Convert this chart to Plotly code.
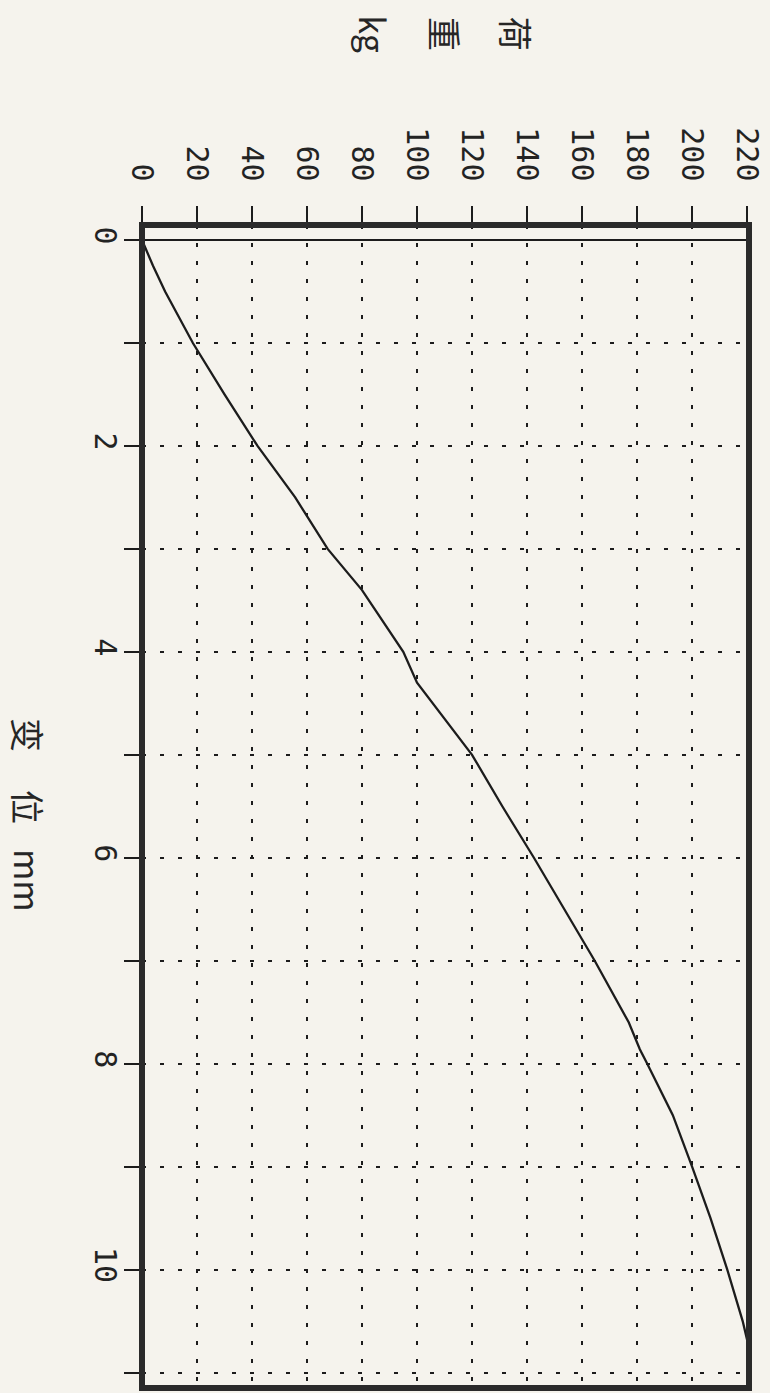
import plotly.graph_objects as go

# Load-displacement record: displacement (mm) vs load (kg)
disp_mm = [0, 0.25, 0.5, 0.75, 1.0, 1.5, 2.0, 2.5, 3.0, 3.4, 4.0, 4.3, 5.0, 5.5,
           6.0, 7.0, 7.6, 7.86, 8.0, 8.5, 9.0, 9.5, 10.0, 10.5, 10.68]
load_kg = [0, 4, 8.4, 13.5, 18.5, 30, 42, 55.7, 67.5, 80, 95, 100, 120, 131,
           142.5, 164.6, 177.0, 181.0, 183.7, 193, 200, 206.7, 212.8, 218.4, 220]

load_ticks = list(range(0, 221, 20))
load_tick_labels = [str(v) for v in load_ticks]
disp_ticks = list(range(0, 12))
disp_tick_labels = [str(v) if v % 2 == 0 else "" for v in disp_ticks]

load_title = ["荷", "重", "kg"]
disp_title = ["变", "位", "mm"]

W, H = 770, 1393
L, R, T, B = 142, 755, 225, 1388
INK = "#1c1c1c"
PAPER = "#f5f3ed"


def px(x):
    return (x - L) / (R - L)


def py(y):
    return (B - y) / (B - T)


fig = go.Figure(
    go.Scatter(
        x=load_kg, y=disp_mm, mode="lines",
        line=dict(color=INK, width=2.3),
        hoverinfo="skip", showlegend=False,
    )
)

tick_font = dict(family="DejaVu Sans Mono", size=30, color="#232323")
grid = dict(showgrid=True, gridcolor=INK, gridwidth=2, griddash="4px,14px")

fig.update_xaxes(
    side="top", range=[0, 220.7],
    tickvals=load_ticks, ticktext=load_tick_labels, tickangle=90,
    ticks="outside", ticklen=18, tickwidth=2, tickcolor=INK,
    ticklabelstandoff=14, ticklabeloverflow="allow",
    tickfont=tick_font, zeroline=False, showline=False, **grid,
)
fig.update_yaxes(
    range=[11.15, -0.146],
    tickvals=disp_ticks, ticktext=disp_tick_labels, tickangle=90,
    ticks="outside", ticklen=17, tickwidth=2, tickcolor=INK,
    ticklabelstandoff=-7, ticklabeloverflow="allow",
    tickfont=tick_font, zeroline=True, zerolinecolor=INK, zerolinewidth=2,
    showline=False, **grid,
)

# heavy frame around the plotting area
fig.add_shape(type="rect", xref="paper", yref="paper", x0=0, x1=1, y0=0, y1=1,
              line=dict(color="#2a2a2a", width=6), layer="above")

title_font = dict(family="Noto Sans CJK SC", size=34, color="#262626")
for ch, xpos in zip(load_title, [520, 448, 375]):
    fig.add_annotation(text=ch, xref="paper", yref="paper", x=px(xpos), y=py(34),
                       textangle=90, showarrow=False, font=title_font,
                       xanchor="center", yanchor="middle")
for ch, ypos in zip(disp_title, [735, 807, 880]):
    fig.add_annotation(text=ch, xref="paper", yref="paper", x=px(28), y=py(ypos),
                       textangle=90, showarrow=False, font=title_font,
                       xanchor="center", yanchor="middle")

fig.update_layout(
    width=W, height=H,
    margin=dict(l=L, r=W - R, t=T, b=H - B),
    paper_bgcolor=PAPER, plot_bgcolor=PAPER,
    showlegend=False,
)

fig.write_html("out.html")
